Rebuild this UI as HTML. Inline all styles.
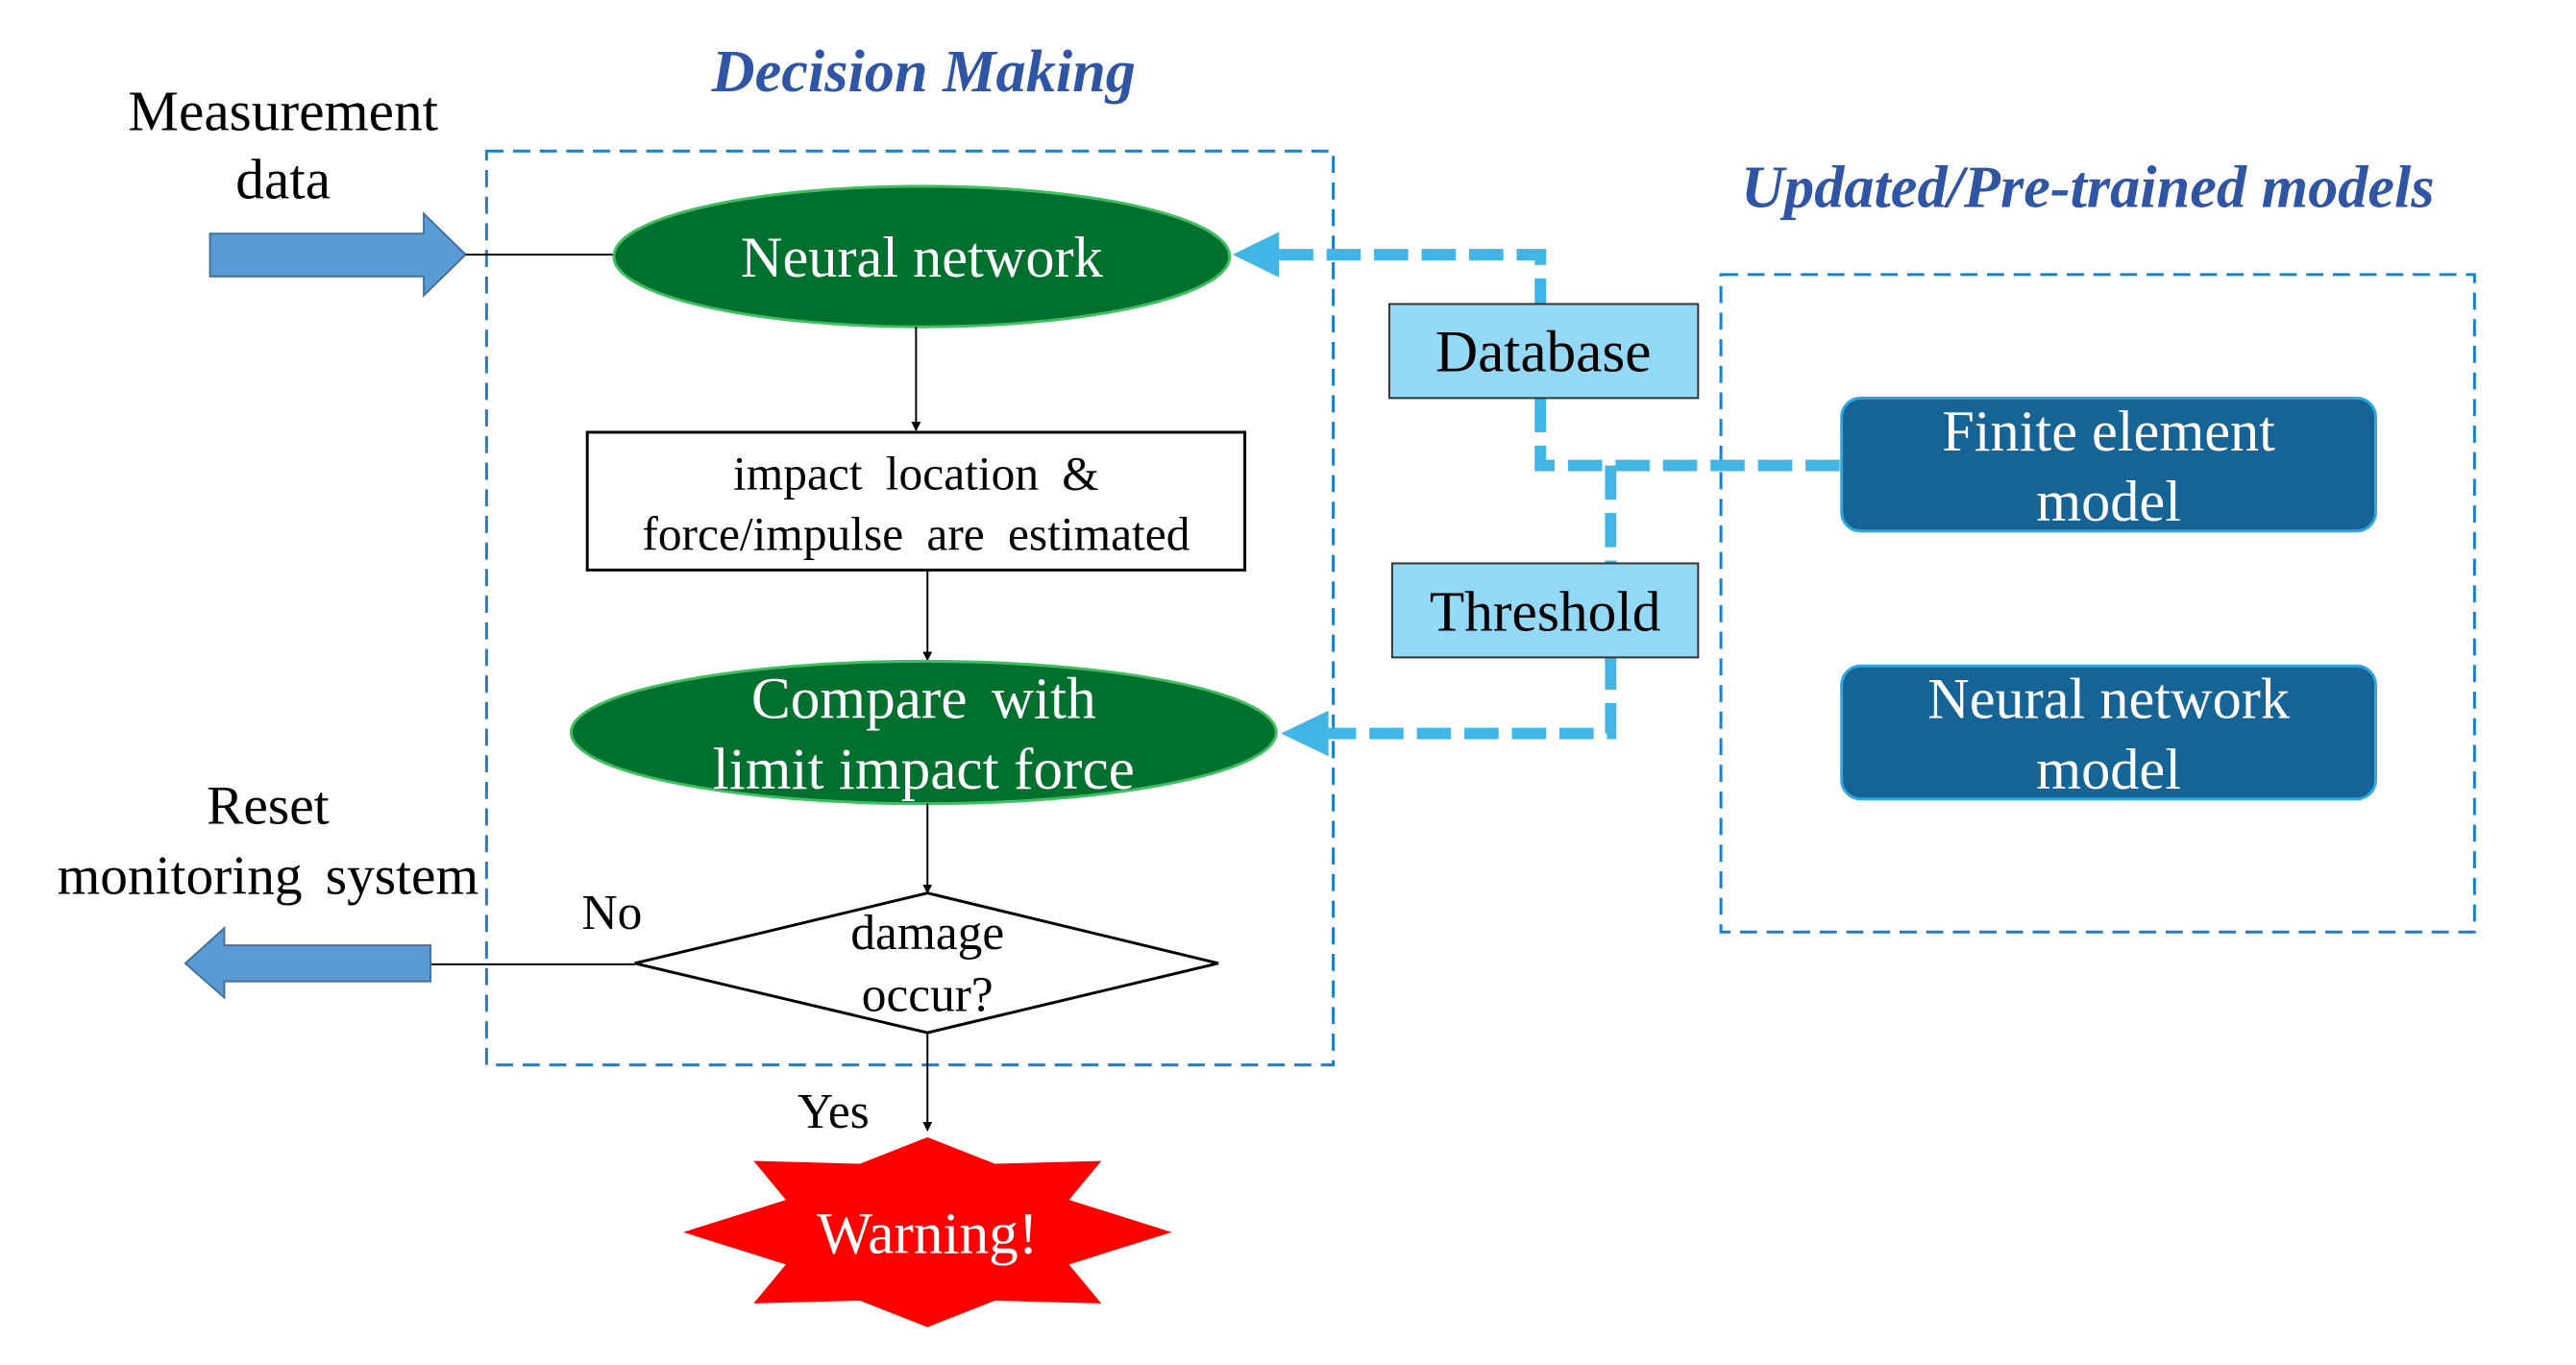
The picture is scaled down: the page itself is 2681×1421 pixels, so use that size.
<!DOCTYPE html>
<html><head><meta charset="utf-8"><style>
html,body{margin:0;padding:0;background:#fff}
svg{display:block}
text{font-family:"Liberation Serif",serif}
</style></head><body>
<svg width="2681" height="1421" viewBox="0 0 2681 1421" xmlns="http://www.w3.org/2000/svg">
<defs>
<marker id="ah" markerWidth="10" markerHeight="10" refX="9" refY="5" orient="auto" markerUnits="userSpaceOnUse" viewBox="0 0 10 10">
<path d="M0,0 L10,5 L0,10 z" fill="#000"/></marker>
</defs>
<g transform="scale(0.989)">
<text x="972" y="96" font-size="63" font-weight="bold" font-style="italic" fill="#2f55a4" text-anchor="middle">Decision Making</text>
<text x="2197" y="218" font-size="63" font-weight="bold" font-style="italic" fill="#2f55a4" text-anchor="middle">Updated/Pre-trained models</text>

<rect x="512" y="159" width="891" height="962" fill="none" stroke="#1a7fd0" stroke-width="3" stroke-dasharray="18,10"/>
<rect x="1811" y="289" width="793" height="692" fill="none" stroke="#1a7fd0" stroke-width="3" stroke-dasharray="18,10"/>

<text x="298" y="137" font-size="60" text-anchor="middle">Measurement</text>
<text x="298" y="209" font-size="60" text-anchor="middle">data</text>
<path d="M221,246 L446,246 L446,225 L490,268 L446,311 L446,291 L221,291 z" fill="#5b9bd5" stroke="#41719c" stroke-width="2"/>
<line x1="490" y1="268" x2="648" y2="268" stroke="#000" stroke-width="2"/>

<ellipse cx="970" cy="270" rx="324" ry="74" fill="#00702f" stroke="#3fbf5f" stroke-width="3"/>
<text x="970" y="291" font-size="61" fill="#fff" text-anchor="middle">Neural network</text>

<line x1="964" y1="344" x2="964" y2="453" stroke="#000" stroke-width="2" marker-end="url(#ah)"/>
<rect x="618" y="455" width="692" height="145" fill="#fff" stroke="#000" stroke-width="3"/>
<text x="964" y="515" font-size="50" text-anchor="middle" word-spacing="12">impact location &amp;</text>
<text x="964" y="579" font-size="50" text-anchor="middle" word-spacing="12">force/impulse are estimated</text>

<line x1="976" y1="600" x2="976" y2="695" stroke="#000" stroke-width="2" marker-end="url(#ah)"/>
<ellipse cx="972" cy="771" rx="371" ry="75" fill="#00702f" stroke="#3fbf5f" stroke-width="3"/>
<text x="972" y="756" font-size="62" fill="#fff" text-anchor="middle" word-spacing="10">Compare with</text>
<text x="972" y="830" font-size="62" fill="#fff" text-anchor="middle">limit impact force</text>

<line x1="976" y1="846" x2="976" y2="940" stroke="#000" stroke-width="2" marker-end="url(#ah)"/>
<path d="M668,1014 L976,940 L1282,1014 L976,1087 z" fill="#fff" stroke="#000" stroke-width="3"/>
<text x="976" y="999" font-size="52" text-anchor="middle">damage</text>
<text x="976" y="1064" font-size="52" text-anchor="middle">occur?</text>
<text x="644" y="978" font-size="52" text-anchor="middle">No</text>

<line x1="668" y1="1015" x2="453" y2="1015" stroke="#000" stroke-width="2"/>
<path d="M453,995 L236,995 L236,977 L195,1014 L236,1050 L236,1033 L453,1033 z" fill="#5b9bd5" stroke="#41719c" stroke-width="2"/>
<text x="282" y="867" font-size="58" text-anchor="middle">Reset</text>
<text x="282" y="941" font-size="58" text-anchor="middle" word-spacing="10">monitoring system</text>

<line x1="976" y1="1087" x2="976" y2="1190" stroke="#000" stroke-width="2" marker-end="url(#ah)"/>
<text x="877" y="1187" font-size="52" text-anchor="middle">Yes</text>

<path d="M976,1197 L1047,1225 L1159,1222 L1125,1263 L1233,1297 L1125,1331 L1159,1372 L1047,1369 L976,1397 L905,1369 L793,1372 L827,1331 L719,1297 L827,1263 L793,1222 L905,1225 z" fill="#ff0000"/>
<text x="976" y="1319" font-size="62" fill="#fff" text-anchor="middle">Warning!</text>

<g stroke="#41b6e6" stroke-width="12" fill="none" stroke-dasharray="36,14">
<path d="M1346,268 L1621,268 L1621,320"/>
<path d="M1621,419 L1621,490 L1938,490"/>
<path d="M1695,490 L1695,772 L1398,772"/>
</g>
<path d="M1297,268 L1346,244 L1346,292 z" fill="#41b6e6"/>
<path d="M1348,772 L1398,748 L1398,796 z" fill="#41b6e6"/>

<rect x="1462" y="320" width="325" height="99" fill="#93d8f4" stroke="#333" stroke-width="2"/>
<text x="1624" y="391" font-size="62" text-anchor="middle">Database</text>
<rect x="1465" y="593" width="322" height="99" fill="#93d8f4" stroke="#333" stroke-width="2"/>
<text x="1626" y="664" font-size="60" text-anchor="middle">Threshold</text>

<rect x="1938" y="419" width="562" height="140" rx="20" fill="#166496" stroke="#2ea6e0" stroke-width="3"/>
<text x="2219" y="474" font-size="61" fill="#fff" text-anchor="middle">Finite element</text>
<text x="2219" y="548" font-size="61" fill="#fff" text-anchor="middle">model</text>
<rect x="1938" y="701" width="562" height="140" rx="20" fill="#166496" stroke="#2ea6e0" stroke-width="3"/>
<text x="2219" y="756" font-size="61" fill="#fff" text-anchor="middle">Neural network</text>
<text x="2219" y="830" font-size="61" fill="#fff" text-anchor="middle">model</text>
</g>
</svg>
</body></html>
